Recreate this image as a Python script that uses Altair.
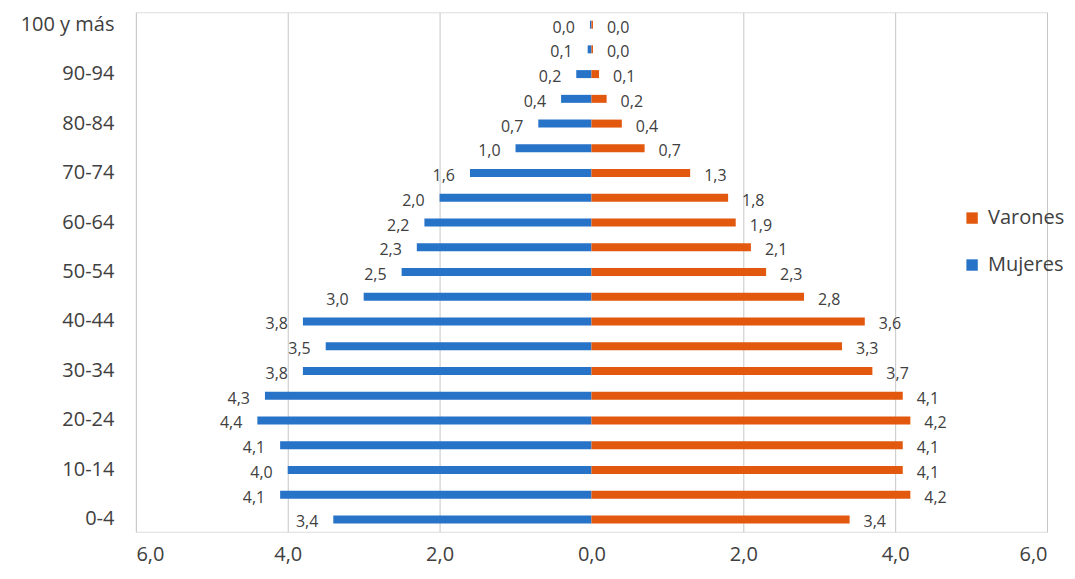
import altair as alt
import pandas as pd

ages = ["0-4", "5-9", "10-14", "15-19", "20-24", "25-29", "30-34", "35-39",
        "40-44", "45-49", "50-54", "55-59", "60-64", "65-69", "70-74", "75-79",
        "80-84", "85-89", "90-94", "95-99", "100 y más"]
mujeres = [3.4, 4.1, 4.0, 4.1, 4.4, 4.3, 3.8, 3.5, 3.8, 3.0, 2.5, 2.3, 2.2,
           2.0, 1.6, 1.0, 0.7, 0.4, 0.2, 0.05, 0.02]
varones = [3.4, 4.2, 4.1, 4.1, 4.2, 4.1, 3.7, 3.3, 3.6, 2.8, 2.3, 2.1, 1.9,
           1.8, 1.3, 0.7, 0.4, 0.2, 0.1, 0.02, 0.02]
series = ["Varones", "Mujeres"]
colors = ["#e2580e", "#2673c8"]
x_ticks = [-6, -4, -2, 0, 2, 4, 6]
y_labels = ages[::2]

rows = []
for a, m, v in zip(ages, mujeres, varones):
    rows.append({"edad": a, "sexo": "Mujeres", "valor": -m})
    rows.append({"edad": a, "sexo": "Varones", "valor": v})
df = pd.DataFrame(rows)

FONT = "Open Sans"
TXT = "#404040"

base = alt.Chart(df).encode(
    y=alt.Y("edad:N", sort=list(reversed(ages)), title=None,
            axis=alt.Axis(values=y_labels, ticks=False, domain=False,
                          labelFontSize=20, labelColor=TXT, labelFont=FONT,
                          labelPadding=22)),
)

bars = base.mark_bar(size=8).encode(
    x=alt.X("valor:Q", scale=alt.Scale(domain=[-6, 6], nice=False), title=None,
            axis=alt.Axis(values=x_ticks, ticks=False, domain=False,
                          labelExpr="replace(format(abs(datum.value), '.1f'), '.', ',')",
                          labelFontSize=20, labelColor=TXT, labelFont=FONT,
                          labelPadding=13, grid=True, gridColor="#c6c6c6",
                          gridOpacity={"condition": {"test": "datum.value === 0", "value": 0}, "value": 1})),
    color=alt.Color("sexo:N", scale=alt.Scale(domain=series, range=colors),
                    legend=alt.Legend(title=None, orient="none", legendX=827, legendY=196,
                                      symbolType="square", symbolSize=130,
                                      symbolStrokeWidth=0,
                                      labelFontSize=20, labelColor=TXT, labelFont=FONT,
                                      rowPadding=27, labelOffset=6)),
)

lab_text = "replace(format(abs(datum.valor), '.1f'), '.', ',')"

labels_m = base.transform_filter("datum.sexo === 'Mujeres'").transform_calculate(
    t=lab_text).mark_text(align="right", dx=-15, dy=3, fontSize=16, color=TXT, font=FONT).encode(
    x="valor:Q", text="t:N")
labels_v = base.transform_filter("datum.sexo === 'Varones'").transform_calculate(
    t=lab_text).mark_text(align="left", dx=14, dy=3, fontSize=16, color=TXT, font=FONT).encode(
    x="valor:Q", text="t:N")

chart = alt.layer(bars, labels_m, labels_v).properties(
    width=912, height=520,
    autosize=alt.AutoSizeParams(type="none"),
    padding={"left": 128, "top": 4, "right": 20, "bottom": 40},
).configure_view(stroke=None).configure(background="white")

chart.save("out.html", embed_options={"renderer": "svg", "actions": False})
